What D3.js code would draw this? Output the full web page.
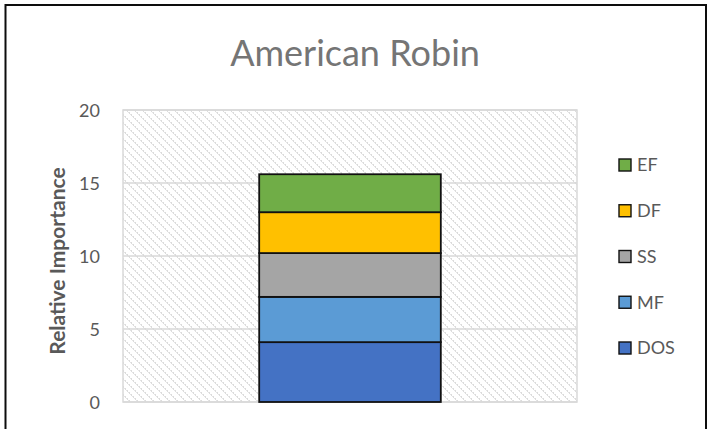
<!DOCTYPE html>
<html><head><meta charset="utf-8">
<script src="https://cdn.jsdelivr.net/npm/d3@7"></script>
<style>body{margin:0;background:#fff}svg{display:block}</style>
</head><body>
<svg id="c" width="713" height="429"></svg>
<script>
const title = "American Robin";
const yLabel = "Relative Importance";
const series = ["DOS", "MF", "SS", "DF", "EF"];
const values = [4.1, 3.1, 3.0, 2.8, 2.6];
const colors = ["#4472C4", "#5B9BD5", "#A5A5A5", "#FFC000", "#70AD47"];
const yTicks = [0, 5, 10, 15, 20];
const categories = ["American Robin"];

const svg = d3.select("#c");
const font = "Lato, 'Open Sans', sans-serif";
// chart border
svg.append("path").attr("d", "M5.5,440 V5 H706 V440").attr("fill","none").attr("stroke","#0d0d0d").attr("stroke-width",2);

const defs = svg.append("defs");
const pat = defs.append("pattern").attr("id","hatch").attr("patternUnits","userSpaceOnUse").attr("width",8).attr("height",8);
pat.append("rect").attr("width",8).attr("height",8).attr("fill","#fff");
for (let k=0;k<8;k++){
  pat.append("rect").attr("x",k).attr("y",k).attr("width",1).attr("height",1).attr("fill", k%2 ? "#dcdcdc" : "#e4e4e4");
  if (k%2===0) pat.append("rect").attr("x",(k+1)%8).attr("y",k).attr("width",1).attr("height",1).attr("fill","#dcdcdc");
}

const x0 = 123, x1 = 577, yTop = 110, yBot = 402;
const y = d3.scaleLinear().domain([0,20]).range([yBot,yTop]);
const x = d3.scaleBand().domain(categories).range([x0,x1]).paddingInner(0.6).paddingOuter(0.3);

svg.append("rect").attr("x",x0).attr("y",yTop).attr("width",x1-x0).attr("height",yBot-yTop).attr("fill","url(#hatch)").attr("stroke","#d9d9d9").attr("stroke-width",1.5);

// gridlines
svg.append("g").selectAll("line").data(yTicks).join("line")
  .attr("x1",x0).attr("x2",x1).attr("y1",d=>y(d)).attr("y2",d=>y(d))
  .attr("stroke","#d9d9d9").attr("stroke-width",1.5);

// y axis
const ax = svg.append("g").attr("transform",`translate(${x0},0)`)
  .call(d3.axisLeft(y).tickValues(yTicks).tickSize(0).tickPadding(23));
ax.select(".domain").remove();
ax.selectAll("text").attr("font-family",font).attr("font-size",18).attr("fill","#595959").attr("dy","0.34em");

// stacked bar
const stacked = [];
let acc = 0;
values.forEach((v,i)=>{ stacked.push({s:series[i], y0:acc, y1:acc+v, c:colors[i]}); acc+=v; });
svg.append("g").selectAll("rect").data(stacked).join("rect")
  .attr("x", x(categories[0])).attr("width", x.bandwidth())
  .attr("y", d=>y(d.y1)).attr("height", d=>y(d.y0)-y(d.y1))
  .attr("fill", d=>d.c).attr("stroke","#111").attr("stroke-width",1.8);

// title
svg.append("text").attr("x",355).attr("y",66).attr("text-anchor","middle")
  .attr("font-family",font).attr("font-size",36).attr("fill","#757575").text(title);

// y label
svg.append("text").attr("transform","translate(65,261) rotate(-90)").attr("text-anchor","middle")
  .attr("font-family",font).attr("font-size",21).attr("font-weight","bold").attr("fill","#595959").text(yLabel);

// legend
const ly = d3.scalePoint().domain(series.slice().reverse()).range([165,348]);
const lg = svg.append("g").selectAll("g").data(stacked).join("g")
  .attr("transform", d=>`translate(619,${ly(d.s)})`);
lg.append("rect").attr("x",0).attr("y",-6).attr("width",12).attr("height",12)
  .attr("fill",d=>d.c).attr("stroke","#111").attr("stroke-width",1.4);
lg.append("text").attr("x",18).attr("y",0).attr("dy","0.36em")
  .attr("font-family",font).attr("font-size",18).attr("fill","#595959").text(d=>d.s);
</script>
</body></html>
